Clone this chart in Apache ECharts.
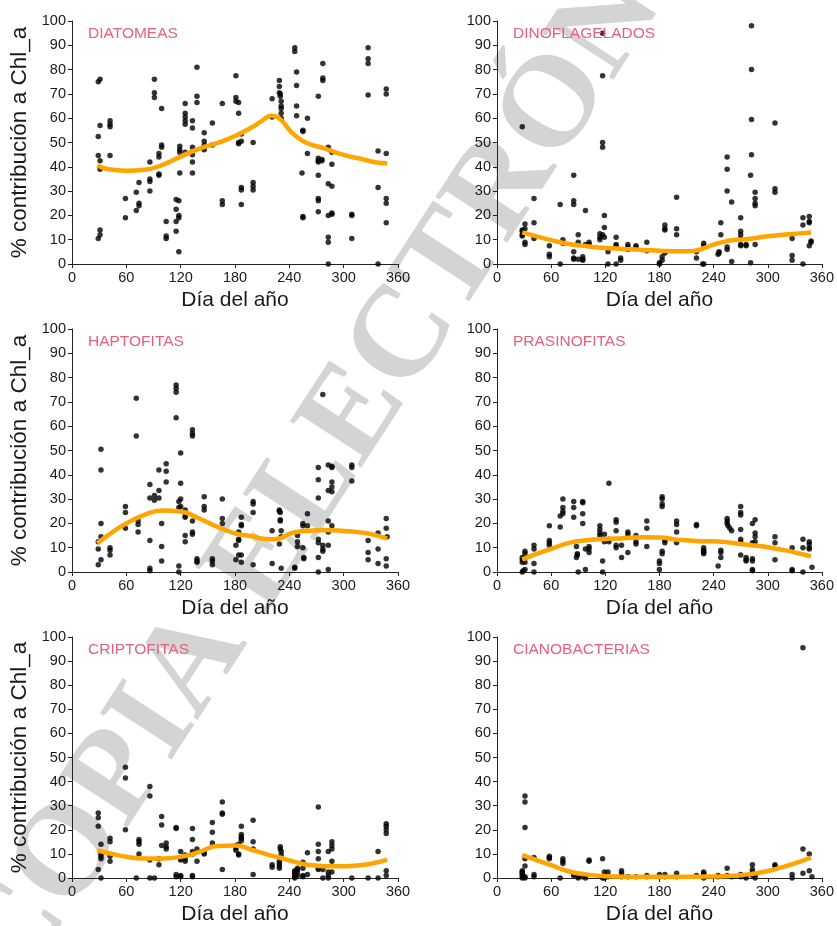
<!DOCTYPE html>
<html>
<head>
<meta charset="utf-8">
<script src="https://cdn.jsdelivr.net/npm/echarts@6/dist/echarts.min.js"></script>
<style>
html,body{margin:0;padding:0;background:#fff;}
#chart{width:837px;height:926px;}
</style>
</head>
<body>
<div id="chart"></div>
<script>
const panelTitles = ['DIATOMEAS','DINOFLAGELADOS','HAPTOFITAS','PRASINOFITAS','CRIPTOFITAS','CIANOBACTERIAS'];
const xTicks = [0,60,120,180,240,300,360];
const yTicks = [0,10,20,30,40,50,60,70,80,90,100];
const xName = 'Día del año';
const yName = '% contribución a Chl_a';
const watermark = 'COPIA ELECTRÓNICA';

const diatomeas = [[29,75],[29,52.5],[29,44.7],[29,10.5],[31,76],[31,57],[31,42.5],[31,39],[31,14],[31,12],
[42,59],[42,57.5],[42,56.5],[42,44.7],[59,27],[59,19],[71,29.5],[71,22],[74,33.5],[74,25],[74,24],
[86,42],[86,35],[86,34],[86,30],[91,76],[91,70.5],[91,68.5],[96,45.5],[96,44],[96,37],[96,36.5],
[99,64],[99,49],[99,48],[104,17.5],[104,11.5],[104,10.5],[115,26.5],[115,22.5],[115,17.5],[115,13.5],
[118,26],[118,20],[118,19],[118,5],[119,48.5],[119,47],[119,46],[119,37.5],
[125,66],[125,62],[125,60.5],[125,59],[125,57.5],[125,46],[133,59],[133,56],[133,48],[133,45],[133,42],[133,37.5],
[138,81],[138,69],[138,66.5],[146,54],[146,50.5],[146,49],[146,47],[155,58],[155,49],
[166,66],[166,26],[166,24.5],[181,77.5],[181,68.5],[181,67],[184,66.5],[184,62],[184,50],[184,49.5],
[187,53.5],[187,50.5],[187,31.5],[187,30.5],[187,24.5],[200,50],[200,33.5],[200,32],[200,30.5],
[221,68],[221,60.5],[229,75.5],[229,73],[229,70.5],[230,70],[230,69],[231,67],[231,65],[231,64],[231,62],[231,60],
[246,89],[246,87.5],[248,79],[248,73.5],[248,65],[248,61],[255,55],[255,54.5],[254,37.5],[255,19.5],[255,19],
[260,60],[260,45.5],[272,69],[272,43.5],[272,42.5],[272,42],[272,36.5],[272,27],[272,26],[272,21.5],
[277,82.5],[277,76.5],[277,75.5],[276,43],[276,42.5],[283,48],[283,33],[283,20],[283,11],[283,9],[283,0],
[287,46],[287,41],[287,32],[287,21],[287,20.5],[309,20.5],[309,20],[309,10.5],
[327,89],[327,84.5],[327,82.5],[327,69.5],[338,46.5],[338,31.5],[338,0],
[347,72],[347,70],[347,45.5],[347,27],[347,25],[347,17]];

const dinoflagelados = [[28,56.5],[28,14],[28,13.5],[28,12],[28,11.5],[31,16.5],[31,14.5],[31,9],[31,8],
[41,27],[41,17],[41,10.5],[58,7.5],[58,4],[58,3],[70,24.5],[70,0],[73,10],[73,8.5],
[85,36.5],[85,26],[85,24.5],[85,5],[85,2.5],[85,2],[90,12],[90,9],[90,2],[95,3],[95,2],[95,1.5],
[98,22],[98,8],[102,9],[102,8],[114,12.5],[114,11],[114,10],[117,95],[117,77.5],[117,50],[117,48],[117,12],
[119,20],[119,15],[119,11],[123,5],[123,0],[132,11],[132,8],[132,7.5],[132,0],[137,2.5],[137,1.5],
[145,8],[145,7],[145,6],[154,7.5],[154,7],[166,9],[166,5.5],[180,0.5],[180,0],[183,3],[183,1.5],
[186,16],[186,14.5],[186,14],[186,5],[186,4.5],[199,27.5],[199,14.5],[199,12],[221,2.5],[221,5],
[229,8.5],[229,7.5],[229,0],[228,0],[245,4],[246,4.5],[246,5],[248,17],[248,12],
[255,44],[255,39],[255,30],[255,7],[255,6],[260,25.5],[260,1],
[270,19],[270,13.5],[270,12],[270,10.5],[270,8],[270,7.5],[276,8],[276,7.5],
[282,98],[282,80],[282,59.5],[282,45],[281,36.5],[281,0.5],[286,29.5],[286,27],[286,25],[286,24],[286,8],
[308,58],[308,31],[308,29.5],[327,10.5],[327,3.5],[327,1.5],[339,19],[339,16],[339,0],
[346,19.5],[346,17.5],[346,17],[346,7.5],[348,9.5],[348,9]];

const haptofitas = [[29,12.5],[29,9.5],[29,3],[32,50.5],[32,42],[32,20],[32,14.5],[32,5],
[42,10],[42,9],[42,7],[59,27],[59,24.5],[59,18],[71,71.5],[71,56],[73,21],[73,19.5],[73,16.5],
[86,36],[86,30.5],[86,13],[86,1.5],[86,0.5],[91,31.5],[91,29.5],[96,42],[96,33.5],[96,30.5],
[99,20],[99,10.5],[99,4.5],[104,44.5],[104,41.5],[104,37],[115,77],[115,75.5],[115,74],[115,63.5],
[118,29],[118,26.5],[118,2.5],[118,0],[120,49],[120,36.5],[120,30],[120,27],
[125,25.5],[125,23],[125,22.5],[125,15],[125,12.5],[133,58.5],[133,57],[133,56],[133,21],[133,16.5],[133,15.5],
[138,5.5],[138,4.5],[138,4],[146,31],[146,27],[146,25.5],[155,5.5],[155,4.5],[155,3],
[166,30],[166,22],[166,20],[181,11],[181,5],[184,16.5],[184,13.5],[184,13],[184,7],
[187,22.5],[187,19.5],[187,19],[187,7],[187,4],[200,29],[200,28],[200,24.5],[200,3],[221,17],[221,3.5],
[229,25.5],[229,25],[230,24.5],[230,21.5],[230,21],[231,17],[231,14.5],[229,11.5],[231,1.5],
[246,2],[246,1.5],[249,15],[249,12.5],[249,10.5],[255,20],[255,19],[255,10],[256,6],[256,5.5],
[260,24],[260,19],[272,43],[272,38],[272,30.5],[272,13.5],[272,12],[272,6],[272,0],
[277,73],[277,11],[277,9.5],[277,8.5],[283,44],[283,33.5],[283,21],[283,16.5],[283,11],[283,1],
[287,43.5],[287,43],[287,37],[287,35],[287,33],[287,19],[309,44],[309,43],[309,37.5],
[327,13],[327,8],[327,5],[338,16],[338,9.5],[338,3.5],[347,22],[347,18],[348,14.5],[347,5.5],[347,2.5]];

const prasinofitas = [[28,6],[28,5],[28,4],[28,0],[29,0.5],[31,8.5],[31,7.5],[31,4],[31,1],
[41,11],[41,9.5],[41,3.5],[41,0],[58,19],[58,13],[58,12],[58,11],[70,18.5],[70,23],
[73,30],[73,26.5],[73,25],[73,24],[85,29],[85,26.5],[85,22.5],[88,10.5],[88,6],[89,7],[89,7.5],[90,0],
[95,29],[95,28.5],[95,24],[95,20],[98,9.5],[98,1],[102,10.5],[102,9.5],[102,8],
[114,19],[114,17.5],[114,16],[114,15],[117,4.5],[117,0],[119,15.5],[119,12.5],[124,36.5],[124,13.5],[124,12.5],
[132,21.5],[132,20.5],[132,17],[132,11],[132,10],[138,11],[138,6],[145,16.5],[145,15.5],[145,8],
[154,15],[154,12.5],[154,11.5],[166,21],[166,18],[166,10.5],[180,4.5],[180,3.5],[180,1],
[183,31],[183,30],[183,28],[183,27],[183,8.5],[183,7.5],[186,13],[186,12],
[199,21],[199,19.5],[199,16.5],[199,12],[221,19.5],[221,19],[229,10],[229,9],[229,8.5],[229,8],[229,7.5],
[245,2.5],[248,9],[248,8],[248,6],[255,22],[255,21],[255,20],[256,19],[258,18],[260,17],
[270,27],[270,24.5],[270,23.5],[270,17.5],[270,13.5],[270,12.5],[270,7],[276,6],[276,5],[276,4.5],
[283,20],[283,12],[283,5.5],[283,4.5],[283,1],[283,0.5],[286,21.5],[286,16],[286,14.5],[286,12.5],
[308,14.5],[308,12],[308,5],[327,10],[327,1],[327,0.5],[339,13.5],[339,10],[339,0],
[346,12.5],[346,11.5],[346,10],[346,9.5],[349,2]];

const criptofitas = [[29,27],[29,25],[29,21.5],[29,3.5],[32,14],[32,10],[32,9],[32,8],[32,0],
[42,16.5],[42,15],[42,9],[42,7],[59,46],[59,41.5],[59,20],[71,0],[74,16],[74,15],[74,14],[74,10],
[86,38],[86,34],[86,7.5],[86,0],[91,0],[96,8],[96,5.5],[99,25.5],[99,22],[99,13.5],[104,14.5],[104,13],[104,12],
[115,21],[115,20.5],[115,1.5],[115,0.5],[120,11],[120,8],[120,7.5],[120,1],[120,0.5],[125,9.5],[125,8],[125,7],
[133,20.5],[133,16],[133,11],[133,10],[133,1],[133,0.5],[138,12],[138,7],[146,10.5],[146,10],
[155,23],[155,19],[155,14.5],[166,31.5],[166,27],[166,26.5],[166,3.5],[181,13.5],[181,12.5],[181,11.5],
[184,14],[184,10],[184,9.5],[187,21.5],[187,18],[187,17],[187,16.5],[187,15.5],[200,24],[200,15],[200,12],[200,1.5],
[221,5.5],[221,4.5],[230,13],[230,12],[231,11],[231,9.5],[229,7],[229,6],[229,5],[229,4],
[246,3],[246,2.5],[246,2],[246,1.5],[246,1],[246,0.5],[246,0],[249,4],[249,3.5],[249,2.5],[249,1],
[255,6.5],[255,4],[255,1],[255,0.5],[260,10.5],[260,1.5],[272,29.5],[272,14],[272,11],[272,8],[272,4],[272,3.5],
[277,0],[277,3.5],[283,11],[283,2.5],[283,1],[283,0],[287,15],[287,13.5],[287,12],[287,7],[287,2.5],
[309,0],[327,0],[338,11],[338,0],[347,22.5],[347,21.5],[347,20],[347,18.5],[347,3],[347,1]];

const cianobacterias = [[28,3],[28,2.5],[28,2],[28,1.5],[28,0.5],[28,0],[31,34],[31,31.5],[31,21],[31,8],[31,5],[31,0.5],[31,0],
[41,8.5],[41,1.5],[41,0.5],[58,9],[58,8.5],[58,8],[70,0],[73,8],[73,7],[73,6],[85,1.5],[85,1],
[90,0.5],[90,0],[95,1.5],[95,0.5],[98,1],[98,0],[102,7.5],[102,7],[117,8],[117,0],[119,2.5],[119,0],
[123,2.5],[123,0.5],[138,3],[138,2],[138,0.5],[145,0.5],[154,0.5],[166,1],[166,0.5],[180,1.5],[180,0.5],
[186,1.5],[186,0.5],[199,2],[199,0.5],[221,1],[229,2.5],[229,2],[229,1.5],[229,0],[245,1],[245,0.5],
[255,4],[255,1],[260,0.5],[270,1.5],[270,0.5],[276,0.5],[276,0],[283,5.5],[283,3.5],[283,2.5],[283,1],
[286,1],[286,0],[308,5.5],[308,5],[327,1.5],[327,0],[339,95.5],[339,12],[339,2],[346,10],[346,3],[349,0.5]];

const curveDays = [28,40,60,80,100,120,140,160,180,200,210,220,230,240,250,260,280,300,320,335,348];
const curveDiatomeas      = [40.5,39,38.4,38.8,40.8,44.2,47.4,49.7,52.7,56.6,59,61,59.6,55.2,51.8,49.7,47.4,44.9,43.2,41.9,41.5];
const curveDinoflagelados = [13,11.8,9.8,8.2,7.3,6.6,6.2,5.8,5.5,5.2,5.2,5.5,6.6,8,9,9.8,10.4,11.4,12.1,12.6,13];
const curveHaptofitas     = [11.8,15.2,20,23.5,25.3,24.9,22.1,18.7,15.9,14.6,13.7,13.5,13.9,15.7,16.6,17,17.3,16.9,16.2,15.2,13.7];
const curvePrasinofitas   = [5.1,6.9,9.5,12,13.1,13.6,13.9,14.3,14.2,13.3,13.1,12.8,12.7,12.7,12.4,12,11.1,10.2,8.9,7.6,6.5];
const curveCriptofitas    = [11.4,10.4,8.8,8.1,8.1,8.8,10.7,13.3,13.5,11.5,10.4,9.3,8.4,7.3,6.3,5.5,4.9,4.9,5.4,6.3,7.6];
const curveCianobacterias = [9.5,7.9,5.3,2.7,1.4,0.7,0.5,0.5,0.5,0.5,0.5,0.5,0.6,0.6,0.7,0.9,1.6,2.9,4.9,6.7,8.5];

const scatterSets = [diatomeas, dinoflagelados, haptofitas, prasinofitas, criptofitas, cianobacterias];
const curveSets = [curveDiatomeas, curveDinoflagelados, curveHaptofitas, curvePrasinofitas, curveCriptofitas, curveCianobacterias];

const FONT = '"Liberation Sans", Arial, sans-serif';
const gridPos = [
  {left:72, top:21}, {left:497, top:21},
  {left:72, top:329}, {left:497, top:329},
  {left:72, top:637}, {left:497, top:637}
];
const GW = 326, GH = 243;

const grids = [], xAxes = [], yAxes = [], series = [], titles = [];
gridPos.forEach((p, i) => {
  grids.push({left:p.left, top:p.top, width:GW, height:GH, containLabel:false});
  const leftCol = (i % 2 === 0);
  xAxes.push({
    gridIndex:i, type:'value', min:xTicks[0], max:xTicks[xTicks.length-1], interval:xTicks[1]-xTicks[0],
    axisLine:{show:true, onZero:false, lineStyle:{color:'#222', width:1}},
    axisTick:{show:true, length:4, lineStyle:{color:'#222'}},
    axisLabel:{fontSize:14.5, color:'#1a1a1a', margin:6, fontFamily:FONT},
    splitLine:{show:false},
    name:xName, nameLocation:'middle', nameGap:26,
    nameTextStyle:{fontSize:21, color:'#1a1a1a', fontFamily:FONT}
  });
  yAxes.push({
    gridIndex:i, type:'value', min:yTicks[0], max:yTicks[yTicks.length-1], interval:yTicks[1]-yTicks[0],
    axisLine:{show:true, onZero:false, lineStyle:{color:'#222', width:1}},
    axisTick:{show:true, length:4, lineStyle:{color:'#222'}},
    axisLabel:{fontSize:14.5, color:'#1a1a1a', margin:6, fontFamily:FONT},
    splitLine:{show:false},
    name: leftCol ? yName : '', nameLocation:'middle', nameGap:41, nameRotate:90,
    nameTextStyle:{fontSize:22.5, color:'#1a1a1a', fontFamily:FONT}
  });
  titles.push({
    text:panelTitles[i], left:p.left+16, top:p.top+5, padding:0,
    textStyle:{fontSize:15.5, fontWeight:'normal', color:'#e8607c', fontFamily:FONT}
  });
  series.push({
    type:'scatter', xAxisIndex:i, yAxisIndex:i, data:scatterSets[i],
    symbol:'circle', symbolSize:5.5, itemStyle:{color:'#000'}, silent:true, z:2
  });
  series.push({
    type:'line', xAxisIndex:i, yAxisIndex:i,
    data:curveDays.map((d, k) => [d, curveSets[i][k]]),
    smooth:0.5, showSymbol:false, symbol:'none',
    lineStyle:{color:'#ffa500', width:4.5}, silent:true, z:3
  });
});

const chart = echarts.init(document.getElementById('chart'), null, {renderer:'canvas'});
chart.setOption({
  animation:false,
  backgroundColor:'#fff',
  title:titles,
  grid:grids,
  xAxis:xAxes,
  yAxis:yAxes,
  series:series,
  graphic:[{
    type:'text', x:378, y:380, rotation:57*Math.PI/180, z:-10, silent:true,
    style:{text:watermark, font:'bold 130px "Liberation Serif", "Times New Roman", serif',
      fill:'#d4d4d4', textAlign:'center', textVerticalAlign:'middle'}
  }]
});
</script>
</body>
</html>
